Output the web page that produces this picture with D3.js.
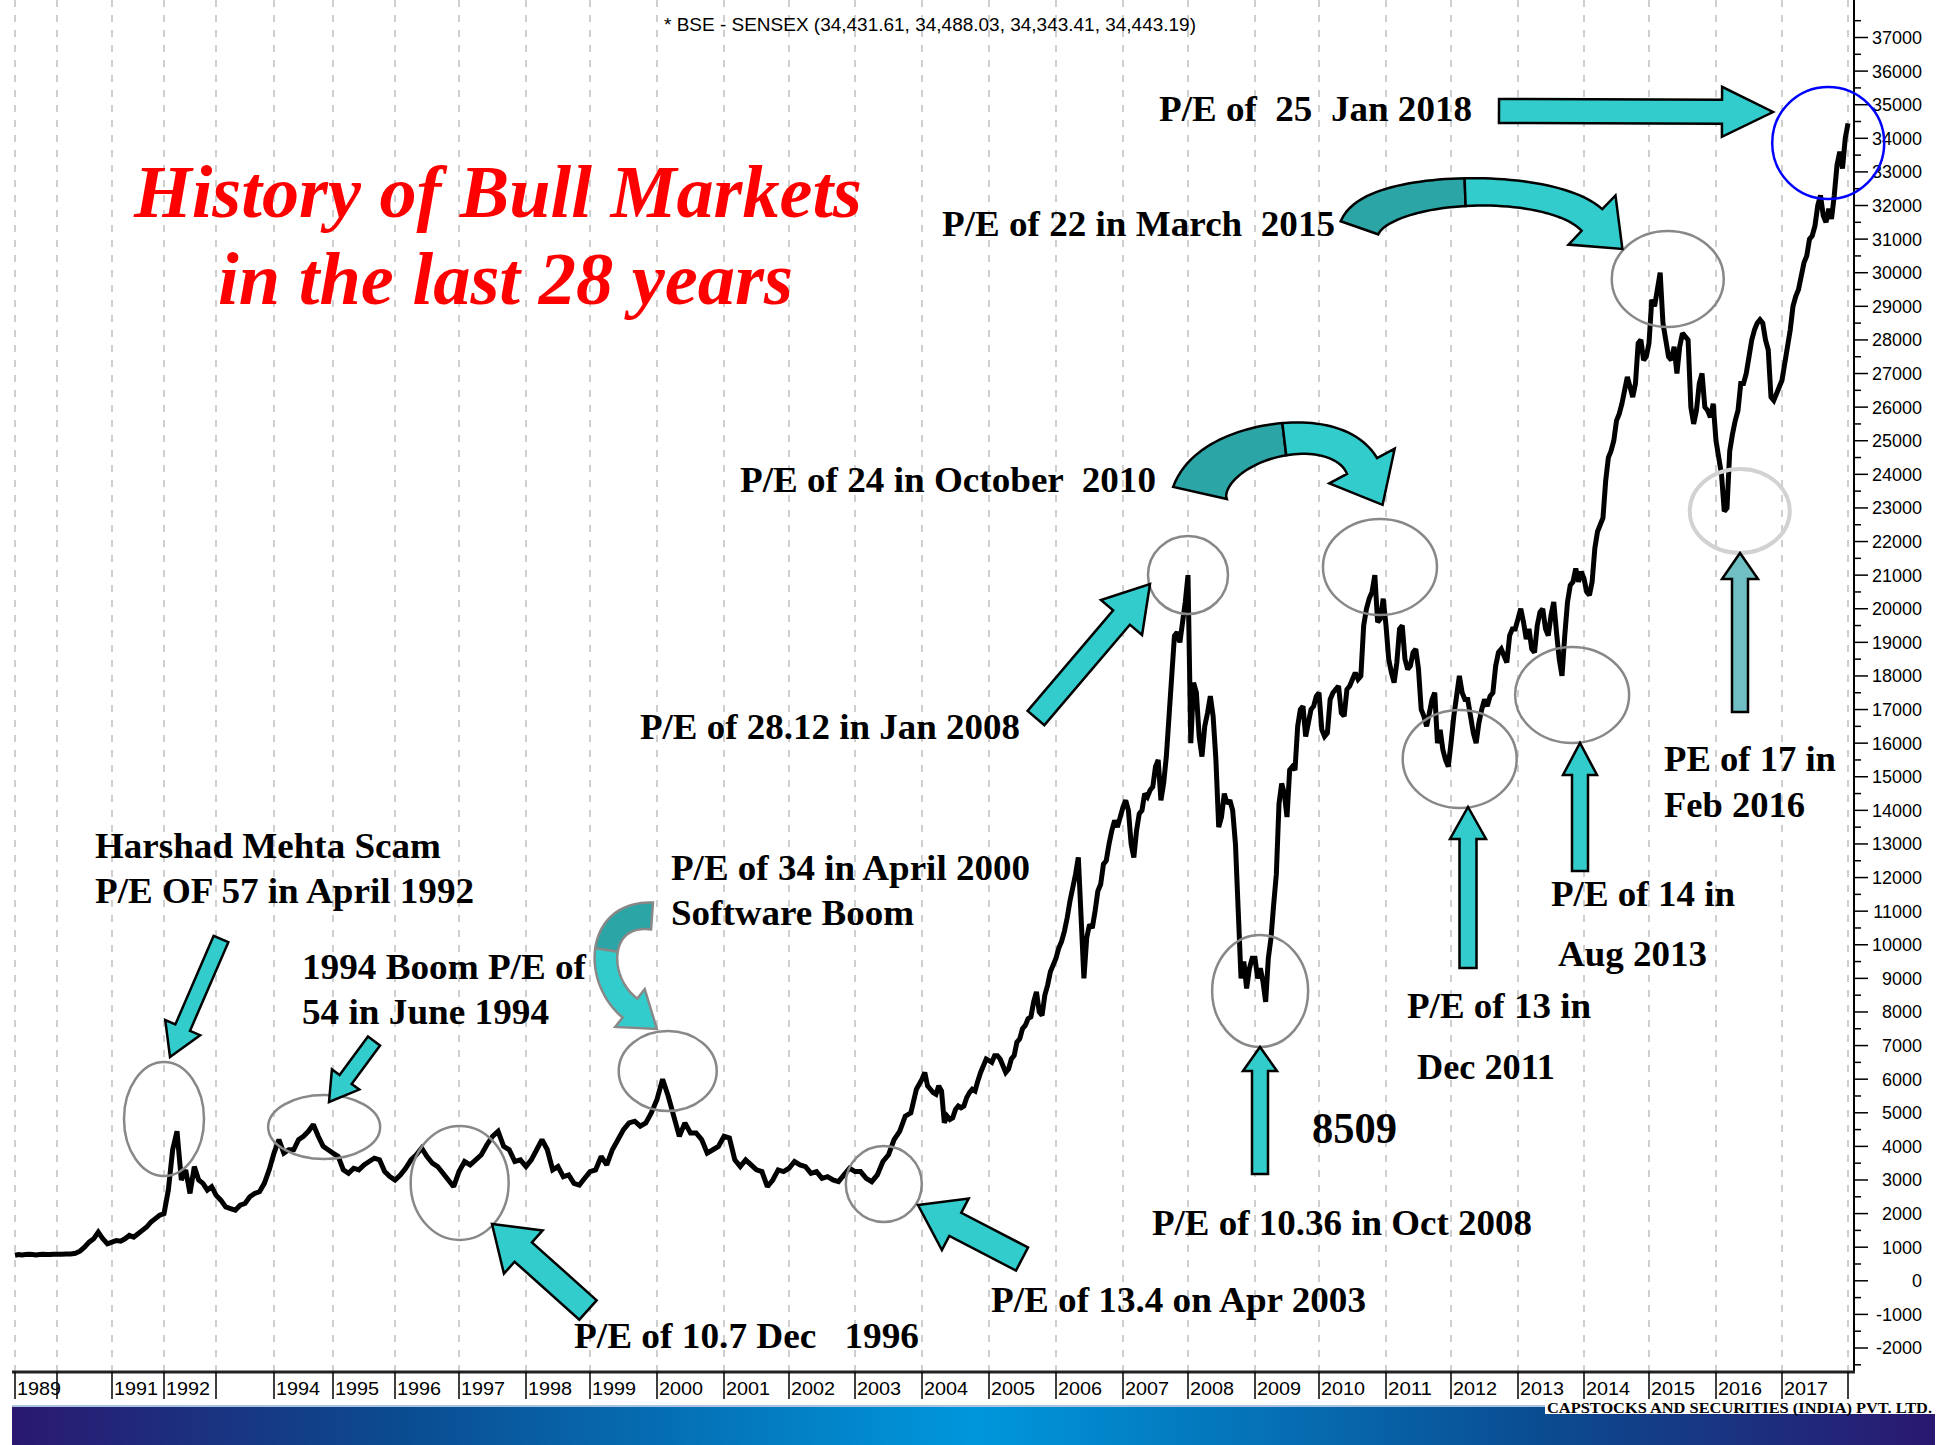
<!DOCTYPE html>
<html>
<head>
<meta charset="utf-8">
<script src="https://cdn.jsdelivr.net/npm/d3@7"></script>
<style>
  html, body { margin: 0; padding: 0; background: #fff; }
  svg { display: block; }
  .note { font-family: "Liberation Serif", "Times New Roman", serif; font-weight: bold; fill: #000; white-space: pre; }
  .axis-label { font-family: "Liberation Sans", Arial, sans-serif; fill: #000; }
</style>
</head>
<body>
<svg id="chart" width="1944" height="1445"></svg>
<script>
// ---- data ----
const header = "* BSE - SENSEX (34,431.61, 34,488.03, 34,343.41, 34,443.19)";
const years = d3.range(1989, 2019);
const unlabeledYears = [1990, 1993, 2018];
const yTicks = d3.range(-2000, 37001, 1000);

// monthly closes, 1989 - 2003
const monthlyFrom = 1989;
const sensexMonthly = [
  760, 780, 770, 780, 790, 780, 770, 780, 790, 780, 780, 790,
  790, 790, 800, 800, 820, 880, 1000, 1150, 1250, 1450, 1250, 1100,
  1150, 1200, 1180, 1250, 1350, 1300, 1400, 1500, 1600, 1750, 1850, 1950,
  2000, 2700, 3900, 4450, 3000, 3300, 2600, 3400, 3000, 2900, 2700, 2800,
  2550, 2400, 2200, 2150, 2100, 2250, 2300, 2500, 2600, 2650, 2900, 3300,
  3800, 4200, 3800, 3900, 3900, 4200, 4300, 4450, 4650, 4300, 4000, 3900,
  3800, 3700, 3300, 3200, 3350, 3300, 3450, 3550, 3650, 3600, 3250, 3100,
  3000, 3150, 3350, 3600, 3750, 3950, 3700, 3500, 3400, 3200, 3000, 2800,
  3250, 3550, 3450, 3600, 3750, 4050, 4300, 4450, 4000, 3900, 3550, 3600,
  3400, 3600, 3900, 4200, 3900, 3300, 3400, 3100, 3150, 2900, 2850, 3050,
  3250, 3300, 3700, 3450, 3900, 4200, 4500, 4700, 4750, 4600, 4700, 5000,
  5400, 6000, 5500, 4900, 4300, 4700, 4400, 4400, 4200, 3800, 3900, 4000,
  4300, 4250, 3600, 3400, 3600, 3450, 3300, 3250, 2800, 3000, 3300, 3250,
  3350, 3550, 3450, 3400, 3200, 3250, 3050, 3100, 3000, 2950, 3150, 3350,
  3250, 3250, 3050, 2950, 3150, 3550, 3750, 4200, 4450, 4900, 5000, 5700
];

// half-monthly closes, 2004 - 2017
const halfMonthlyFrom = 2004;
const sensexHalfMonthly = [
  6000, 6200, 5800, 5700, 5600, 5550, 5800, 5650, 4700, 4900, 4800, 4850, 5100, 5200, 5150, 5200, 5450, 5600, 5700, 5650, 5950, 6200, 6400, 6600,
  6550, 6500, 6700, 6700, 6600, 6400, 6200, 6300, 6600, 6700, 7100, 7200, 7500, 7600, 7800, 7850, 8300, 8600, 8000, 7900, 8500, 8800, 9200, 9400,
  9600, 9900, 10100, 10400, 10800, 11300, 11700, 12100, 12600, 10800, 9000, 10200, 10600, 10500, 11000, 11600, 11800, 12400, 12500, 13000, 13400, 13700, 13500, 13800,
  14100, 14300, 14000, 13000, 12600, 13400, 13900, 14000, 14500, 14400, 14600, 14700, 15300, 15500, 14300, 14800, 15600, 16800, 18000, 19200, 19300, 19000, 19600, 20200,
  21000, 16000, 17800, 17500, 16200, 15600, 16500, 16900, 17400, 16800, 15500, 13500, 13800, 14500, 14200, 14300, 14000, 13000, 11000, 9000, 9500, 8700, 9300, 9600,
  9600, 9000, 9300, 8900, 8300, 9600, 10200, 11200, 12100, 14200, 14800, 14500, 13800, 15200, 15300, 15200, 16500, 17000, 17100, 16200, 16600, 17000, 17100, 17400,
  17500, 16400, 16200, 16300, 17300, 17500, 17600, 17700, 16900, 16800, 17600, 17700, 17900, 18100, 17900, 18000, 19500, 20000, 20300, 20500, 21000, 19600, 19700, 20300,
  19500, 18500, 18100, 17800, 18400, 19400, 19500, 18500, 18200, 18300, 18700, 18800, 18200, 17000, 16800, 16500, 16900, 17300, 17500, 16000, 16400, 15800, 15500, 15300,
  16000, 16800, 17400, 18000, 17500, 17300, 17300, 16800, 16300, 16000, 16600, 17000, 17300, 17100, 17400, 17500, 18300, 18700, 18800, 18600, 18400, 19200, 19400, 19400,
  19700, 20000, 19600, 19100, 19400, 18800, 18700, 19500, 19900, 20000, 19400, 19200, 19800, 20200, 19300, 18500, 18000, 19200, 20200, 20700, 20800, 21200, 20800, 21100,
  20900, 20500, 20400, 20800, 21800, 22300, 22500, 22700, 23800, 24500, 24700, 25000, 25600, 25800, 26100, 26500, 26900, 26600, 26300, 26700, 27900, 28000, 27400, 27500,
  27900, 29200, 29000, 29500, 30000, 28500, 28000, 27500, 27400, 27800, 27000, 27800, 28200, 28100, 28000, 26000, 25500, 25900, 26700, 27000, 26000, 25900, 25700, 26100,
  25000, 24500, 24000, 22900, 23000, 24700, 25200, 25600, 25900, 26700, 26700, 27000, 27500, 28000, 28300, 28500, 28600, 28500, 28000, 27700, 26300, 26200, 26400, 26600,
  26800, 27300, 27800, 28300, 29000, 29300, 29500, 29900, 30300, 30500, 31000, 31100, 31400, 32000, 32300, 31700, 31500, 31900, 31600, 32300, 33200, 33600, 33100, 34000
];
const lastClose = 34443.19;

// highlighted spots (date, level)
const circles = [
  { t: 1992.0, v: 4815, rx: 40, ry: 57 },
  { t: 1994.85, v: 4577, rx: 56, ry: 32 },
  { t: 1997.01, v: 2911, rx: 49, ry: 57 },
  { t: 2000.16, v: 6244, rx: 49, ry: 40 },
  { t: 2003.43, v: 2881, rx: 38, ry: 38 },
  { t: 2008.0, v: 21006, rx: 40, ry: 39 },
  { t: 2009.08, v: 8625, rx: 48, ry: 56 },
  { t: 2010.91, v: 21244, rx: 57, ry: 48 },
  { t: 2012.13, v: 15530, rx: 57, ry: 49 },
  { t: 2013.82, v: 17435, rx: 57, ry: 48 },
  { t: 2015.28, v: 29815, rx: 56, ry: 48 },
  { t: 2016.36, v: 22911, rx: 50, ry: 42, color: "#d2d2d2", width: 4 },
  { t: 2017.70, v: 33863, rx: 56, ry: 56, color: "#0000ff", width: 2.5 }
];

// ---- layout ----
const width = 1944, height = 1445;
const axisX = 1854, axisY = 1372;
// year starts on the x axis (trading-day spacing, so early years are narrower)
const yearPx = [15, 57, 112, 164, 216, 274, 333, 395, 459, 526, 590, 657, 724, 789, 855,
  922, 989, 1056, 1123, 1188, 1255, 1319, 1386, 1451, 1518, 1584, 1649, 1716, 1782, 1848];

const notes = [
  { text: "Harshad Mehta Scam", x: 95, y: 858, len: 346 },
  { text: "P/E OF 57 in April 1992", x: 95, y: 903, len: 379 },
  { text: "1994 Boom P/E of", x: 302, y: 979, len: 284 },
  { text: "54 in June 1994", x: 302, y: 1024, len: 247 },
  { text: "P/E of 34 in April 2000", x: 671, y: 880, len: 359 },
  { text: "Software Boom", x: 671, y: 925, len: 243 },
  { text: "P/E of 10.7 Dec   1996", x: 574, y: 1348, len: 345 },
  { text: "P/E of 13.4 on Apr 2003", x: 991, y: 1312, len: 375 },
  { text: "P/E of 10.36 in Oct 2008", x: 1152, y: 1235, len: 380 },
  { text: "P/E of 13 in", x: 1407, y: 1018, len: 184 },
  { text: "Dec 2011", x: 1417, y: 1079, len: 138 },
  { text: "P/E of 14 in", x: 1551, y: 906, len: 184 },
  { text: "Aug 2013", x: 1558, y: 966, len: 149 },
  { text: "PE of 17 in", x: 1664, y: 771, len: 172 },
  { text: "Feb 2016", x: 1664, y: 817, len: 141 },
  { text: "P/E of 28.12 in Jan 2008", x: 640, y: 739, len: 380 },
  { text: "P/E of 24 in October  2010", x: 740, y: 492, len: 416 },
  { text: "P/E of 22 in March  2015", x: 942, y: 236, len: 393 },
  { text: "P/E of  25  Jan 2018", x: 1159, y: 121, len: 313 },
  { text: "8509", x: 1312, y: 1143, len: 85, size: 44 }
];

const blockArrows = [
  { from: [221, 939], to: [170, 1057], shaft: 16, head: 38, headLen: 32 },
  { from: [374, 1041], to: [329, 1102], shaft: 15, head: 34, headLen: 28 },
  { from: [588, 1310], to: [492, 1224], shaft: 26, head: 58, headLen: 42 },
  { from: [1022, 1259], to: [918, 1205], shaft: 26, head: 58, headLen: 42 },
  { from: [1036, 718], to: [1150, 584], shaft: 22, head: 54, headLen: 44 },
  { from: [1260, 1174], to: [1260, 1047], shaft: 16, head: 34, headLen: 24 },
  { from: [1468, 968], to: [1468, 807], shaft: 17, head: 36, headLen: 32 },
  { from: [1580, 871], to: [1580, 743], shaft: 16, head: 34, headLen: 32 },
  { from: [1740, 712], to: [1740, 553], shaft: 16, head: 36, headLen: 26, fill: "#6fbfc4" },
  { from: [1499, 111], to: [1773, 112], shaft: 24, head: 50, headLen: 51 }
];

const curvedArrows = [
  { path: [[652, 916], [596, 912], [594, 980], [630, 1008]], w: [27, 20, 24], head: 48, headLen: 34, split: 0.5, stroke: "#888" },
  { path: [[1200, 493], [1212, 440], [1335, 415], [1362, 466]], w: [55, 22, 34], head: 74, headLen: 44, split: 0.55, stroke: "#000" },
  { path: [[1360, 228], [1375, 185], [1548, 178], [1592, 220]], w: [41, 20, 30], head: 68, headLen: 42, split: 0.5, stroke: "#000" }
];

const svg = d3.select("#chart");
svg.append("rect").attr("width", width).attr("height", height).attr("fill", "#fff");

const x = d3.scaleLinear().domain(years).range(yearPx);
const y = d3.scaleLinear().domain([-2000, 37000]).range([1348, 37.5]);

// --- grid ---
svg.append("g")
  .selectAll("line")
  .data(years)
  .join("line")
  .attr("x1", d => x(d)).attr("x2", d => x(d))
  .attr("y1", 0).attr("y2", axisY)
  .attr("stroke", "#c4c4c4")
  .attr("stroke-width", 1.6)
  .attr("stroke-dasharray", "7,8");

// --- series ---
const series = [];
sensexMonthly.forEach((v, i) => series.push({ t: monthlyFrom + i / 12, v }));
sensexHalfMonthly.forEach((v, i) => series.push({ t: halfMonthlyFrom + i / 24, v }));
series.push({ t: 2018, v: lastClose });

const line = d3.line().x(d => x(d.t)).y(d => y(d.v));
svg.append("path")
  .datum(series)
  .attr("d", line)
  .attr("fill", "none")
  .attr("stroke", "#000")
  .attr("stroke-width", 5)
  .attr("stroke-linejoin", "miter")
  .attr("stroke-miterlimit", 2);

// --- right axis ---
const yAxis = svg.append("g");
yAxis.append("line")
  .attr("x1", axisX).attr("x2", axisX).attr("y1", 0).attr("y2", axisY)
  .attr("stroke", "#000").attr("stroke-width", 2);
yAxis.selectAll(".minor")
  .data(d3.range(-2500, 37600, 500))
  .join("line")
  .attr("x1", axisX).attr("x2", d => axisX + (d % 1000 === 0 ? 14 : 7))
  .attr("y1", d => y(d)).attr("y2", d => y(d))
  .attr("stroke", "#000").attr("stroke-width", 1.5);
yAxis.selectAll("text")
  .data(yTicks)
  .join("text")
  .attr("class", "axis-label")
  .attr("x", 1922)
  .attr("y", d => y(d))
  .attr("dy", "0.36em")
  .attr("text-anchor", "end")
  .style("font-size", "18px")
  .text(d => d);

// --- bottom axis ---
const xAxis = svg.append("g");
xAxis.append("line")
  .attr("x1", 12).attr("x2", axisX + 1).attr("y1", axisY).attr("y2", axisY)
  .attr("stroke", "#222").attr("stroke-width", 3);
xAxis.selectAll(".tick")
  .data(years)
  .join("line")
  .attr("x1", d => x(d)).attr("x2", d => x(d))
  .attr("y1", axisY).attr("y2", 1399)
  .attr("stroke", "#000").attr("stroke-width", 1.5);
xAxis.selectAll("text")
  .data(years.filter(d => !unlabeledYears.includes(d)))
  .join("text")
  .attr("class", "axis-label")
  .attr("x", d => x(d) + 2)
  .attr("y", 1395)
  .attr("textLength", 44)
  .attr("lengthAdjust", "spacingAndGlyphs")
  .style("font-size", "19px")
  .text(d => d);

// --- circles ---
svg.append("g")
  .selectAll("ellipse")
  .data(circles)
  .join("ellipse")
  .attr("cx", d => x(d.t))
  .attr("cy", d => y(d.v))
  .attr("rx", d => d.rx)
  .attr("ry", d => d.ry)
  .attr("fill", "none")
  .attr("stroke", d => d.color || "#888")
  .attr("stroke-width", d => d.width || 2.5);

// --- arrows ---
function blockArrow(a) {
  const [x0, y0] = a.from, [x1, y1] = a.to;
  const len = Math.hypot(x1 - x0, y1 - y0);
  const ux = (x1 - x0) / len, uy = (y1 - y0) / len;
  const nx = -uy, ny = ux;
  const sw = a.shaft / 2, hw = a.head / 2;
  const bx = x1 - ux * a.headLen, by = y1 - uy * a.headLen;
  return [
    [x0 + nx * sw, y0 + ny * sw],
    [bx + nx * sw, by + ny * sw],
    [bx + nx * hw, by + ny * hw],
    [x1, y1],
    [bx - nx * hw, by - ny * hw],
    [bx - nx * sw, by - ny * sw],
    [x0 - nx * sw, y0 - ny * sw]
  ];
}

svg.append("g")
  .selectAll("polygon")
  .data(blockArrows)
  .join("polygon")
  .attr("points", d => blockArrow(d).map(p => p.join(",")).join(" "))
  .attr("fill", d => d.fill || "#33cccc")
  .attr("stroke", "#000")
  .attr("stroke-width", 2.5)
  .attr("stroke-linejoin", "miter");

function cubic(p, t) {
  const m = 1 - t;
  return [0, 1].map(k => m * m * m * p[0][k] + 3 * m * m * t * p[1][k] + 3 * m * t * t * p[2][k] + t * t * t * p[3][k]);
}
function cubicDeriv(p, t) {
  const m = 1 - t;
  return [0, 1].map(k => 3 * m * m * (p[1][k] - p[0][k]) + 6 * m * t * (p[2][k] - p[1][k]) + 3 * t * t * (p[3][k] - p[2][k]));
}
function curvedArrow(a) {
  const N = 48;
  const pts = d3.range(N + 1).map(i => {
    const t = i / N;
    const [px, py] = cubic(a.path, t);
    const [dx, dy] = cubicDeriv(a.path, t);
    const l = Math.hypot(dx, dy);
    const w = (a.w[0] * (1 - t) * (1 - t) + 2 * a.w[1] * t * (1 - t) + a.w[2] * t * t) / 2;
    return { x: px, y: py, nx: -dy / l, ny: dx / l, w };
  });
  const side = (arr, s) => arr.map(p => [p.x + s * p.nx * p.w, p.y + s * p.ny * p.w]);
  const cut = Math.round(N * a.split);
  const first = pts.slice(0, cut + 1), second = pts.slice(cut);
  const end = pts[N];
  const hw = a.head / 2;
  const tip = [end.x + end.ny * a.headLen, end.y - end.nx * a.headLen];
  const dark = side(first, 1).concat(side(first, -1).reverse());
  const light = side(second, 1)
    .concat([[end.x + end.nx * hw, end.y + end.ny * hw], tip, [end.x - end.nx * hw, end.y - end.ny * hw]])
    .concat(side(second, -1).reverse());
  return { dark, light };
}

const curved = svg.append("g");
curvedArrows.forEach(a => {
  const shape = curvedArrow(a);
  curved.append("polygon")
    .attr("points", shape.dark.map(p => p.join(",")).join(" "))
    .attr("fill", "#2ba5a5").attr("stroke", a.stroke).attr("stroke-width", 2.5);
  curved.append("polygon")
    .attr("points", shape.light.map(p => p.join(",")).join(" "))
    .attr("fill", "#33cccc").attr("stroke", a.stroke).attr("stroke-width", 2.5)
    .attr("stroke-linejoin", "miter");
});

// --- notes ---
svg.append("g")
  .selectAll("text")
  .data(notes)
  .join("text")
  .attr("class", "note")
  .attr("x", d => d.x)
  .attr("y", d => d.y)
  .attr("textLength", d => d.len)
  .attr("lengthAdjust", "spacingAndGlyphs")
  .style("font-size", d => (d.size || 36) + "px")
  .text(d => d.text);

// --- title ---
const title = svg.append("g")
  .attr("font-family", "'Liberation Serif', 'Times New Roman', serif")
  .attr("font-weight", "bold")
  .attr("font-style", "italic")
  .attr("fill", "#ff0000");
title.append("text").attr("x", 134).attr("y", 217)
  .attr("textLength", 728).attr("lengthAdjust", "spacingAndGlyphs")
  .style("font-size", "75px").text("History of Bull Markets");
title.append("text").attr("x", 218).attr("y", 304)
  .attr("textLength", 575).attr("lengthAdjust", "spacingAndGlyphs")
  .style("font-size", "75px").text("in the last 28 years");

// --- header ---
svg.append("text")
  .attr("class", "axis-label")
  .attr("x", 664).attr("y", 31)
  .attr("textLength", 532).attr("lengthAdjust", "spacingAndGlyphs")
  .style("font-size", "18px")
  .text(header);

// --- footer band ---
const grad = svg.append("defs").append("linearGradient").attr("id", "band");
[["0", "#2b1870"], ["0.2", "#0b4b90"], ["0.5", "#0097dc"], ["0.8", "#0b4b90"], ["1", "#2b1870"]]
  .forEach(([o, c]) => grad.append("stop").attr("offset", o).attr("stop-color", c));
svg.append("rect").attr("x", 12).attr("y", 1405).attr("width", 1923).attr("height", 2).attr("fill", "#a9c4dc");
svg.append("rect").attr("x", 12).attr("y", 1407).attr("width", 1923).attr("height", 38).attr("fill", "url(#band)");

// firm name, squeezed into the strip under the year labels
svg.append("rect").attr("x", 1545).attr("y", 1400).attr("width", 399).attr("height", 14).attr("fill", "#fff");
svg.append("text")
  .attr("class", "note")
  .attr("x", 1547).attr("y", 1413)
  .attr("textLength", 385).attr("lengthAdjust", "spacingAndGlyphs")
  .style("font-size", "15px")
  .text("CAPSTOCKS AND SECURITIES (INDIA) PVT. LTD.");
</script>
</body>
</html>
